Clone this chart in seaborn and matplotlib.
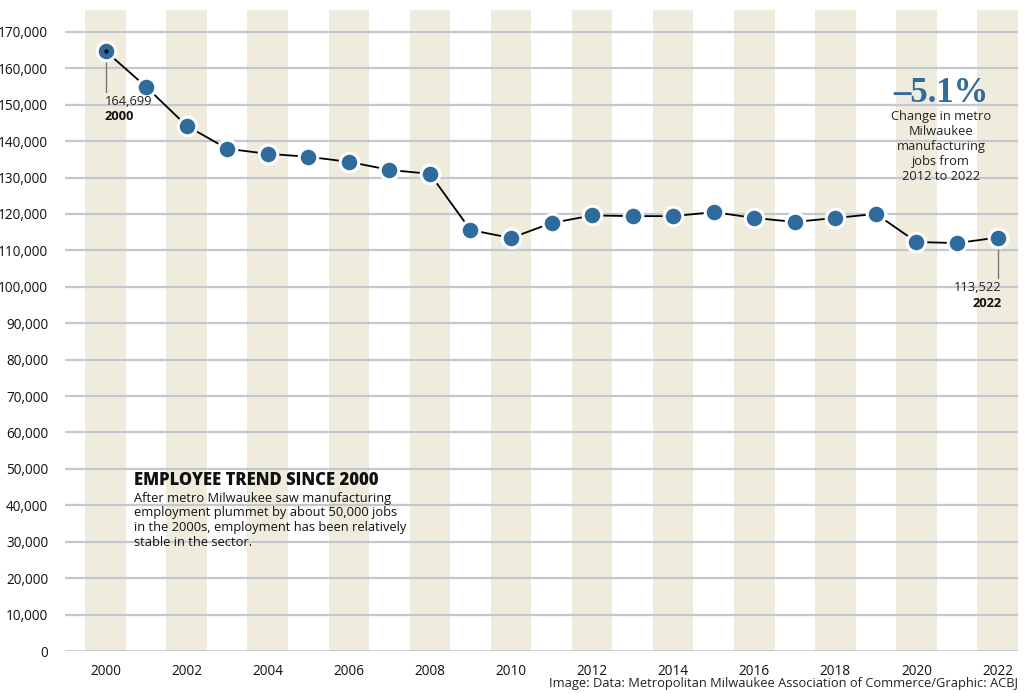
import numpy as np
import pandas as pd
import matplotlib
matplotlib.use("Agg")
import matplotlib.pyplot as plt
import seaborn as sns

# data
YEARS = list(range(2000, 2023))
JOBS = [164699, 154900, 144200, 137900, 136500, 135700, 134300, 132100, 131000,
        115600, 113400, 117500, 119600, 119400, 119400, 120500, 118900, 117800,
        118900, 120000, 112300, 112000, 113522]
Y_TICKS = list(range(0, 170001, 10000))
X_TICKS = list(range(2000, 2023, 2))

BAND = "#efebdd"
GRID = "#c2c8cf"
DOT = "#2f6b9b"

sns.set_theme(style="white")
plt.rcParams["font.family"] = ["Open Sans", "DejaVu Sans"]

df = pd.DataFrame({"year": YEARS, "jobs": JOBS})

fig = plt.figure(figsize=(10.24, 6.93), dpi=100)
ax = fig.add_axes([0.0635, 0.0606, 0.9305, 0.925])

# beige columns at even years
for yr in X_TICKS:
    ax.axvspan(yr - 0.5, yr + 0.5, color=BAND, lw=0, zorder=0)

for v in Y_TICKS[1:]:
    ax.axhline(v, color=GRID, lw=1.6, zorder=1)
ax.axhline(0, color=GRID, lw=2.0, zorder=1)

sns.lineplot(data=df, x="year", y="jobs", color="black", lw=1.3, ax=ax, zorder=2)
sns.scatterplot(data=df, x="year", y="jobs", color=DOT, s=180, edgecolor="white",
                linewidth=2.2, ax=ax, zorder=3)
ax.plot([YEARS[0]], [JOBS[0]], "o", color="black", ms=2, zorder=4)

# callouts for first and last points
ax.plot([YEARS[0], YEARS[0]], [JOBS[0], 153500], color="#777777", lw=1, zorder=2)
ax.text(YEARS[0] - 0.03, 151000, f"{JOBS[0]:,}", fontsize=9.3, ha="left", va="center", color="#222222")
ax.text(YEARS[0] - 0.03, 146700, str(YEARS[0]), fontsize=9.3, fontweight="bold", ha="left", va="center", color="#111111")
ax.plot([YEARS[-1], YEARS[-1]], [JOBS[-1], 102500], color="#777777", lw=1, zorder=2)
ax.text(YEARS[-1] + 0.1, 99800, f"{JOBS[-1]:,}", fontsize=9.3, ha="right", va="center", color="#222222")
ax.text(YEARS[-1] + 0.1, 95400, str(YEARS[-1]), fontsize=9.3, fontweight="bold", ha="right", va="center", color="#111111")

# headline stat
ax.text(2020.6, 150600, "\u20135.1%", fontsize=25, fontweight="bold", color=DOT,
        family=["Liberation Serif", "DejaVu Serif"], ha="center", va="baseline")
ax.text(2020.6, 138600, "Change in metro\nMilwaukee\nmanufacturing\njobs from\n2012 to 2022",
        fontsize=9.3, ha="center", va="center", linespacing=1.2, color="#222222")

# note block
ax.text(2000.7, 46700, "EMPLOYEE TREND SINCE 2000", fontsize=12, fontweight="heavy",
        ha="left", va="center", color="#111111")
ax.text(2000.7, 35900, "After metro Milwaukee saw manufacturing\nemployment plummet by about 50,000 jobs\n"
        "in the 2000s, employment has been relatively\nstable in the sector.",
        fontsize=9.3, ha="left", va="center", linespacing=1.17, color="#111111")

ax.set_xlim(1999.0, 2022.5)
ax.set_ylim(0, 176000)
ax.set_xticks(X_TICKS)
ax.set_yticks(Y_TICKS)
ax.set_yticklabels([f"{v:,}" for v in Y_TICKS])
ax.tick_params(axis="both", length=0, labelsize=9.8, colors="#111111")
ax.tick_params(axis="y", pad=12)
ax.tick_params(axis="x", pad=9)
ax.set_xlabel("")
ax.set_ylabel("")
for s in ax.spines.values():
    s.set_visible(False)

fig.text(0.994, 0.005, "Image: Data: Metropolitan Milwaukee Association of Commerce/Graphic: ACBJ",
         ha="right", va="bottom", fontsize=9.3, color="#222222")

fig.savefig("out.png", dpi=100)
